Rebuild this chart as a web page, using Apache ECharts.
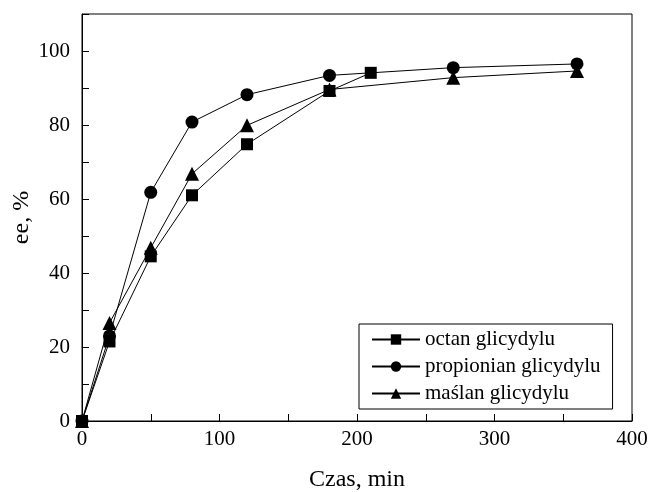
<!DOCTYPE html>
<html><head><meta charset="utf-8">
<script src="https://cdn.jsdelivr.net/npm/echarts@6/dist/echarts.min.js"></script>
<style>html,body{margin:0;padding:0;background:#fff}#c{width:651px;height:492px}</style>
</head><body><div id="c"></div>
<script>
var seriesNames = ['octan glicydylu', 'propionian glicydylu', 'maślan glicydylu'];
var octanX = [0, 20, 50, 80, 120, 180, 210];
var octanY = [0, 21.5, 44.5, 61, 74.8, 89.2, 94.1];
var propX = [0, 20, 50, 80, 120, 180, 270, 360];
var propY = [0, 23, 61.8, 80.8, 88.2, 93.4, 95.5, 96.5];
var maslX = [0, 20, 50, 80, 120, 180, 270, 360];
var maslY = [0, 26.5, 46.8, 66.8, 79.9, 89.6, 92.8, 94.6];
var symbols = ['rect', 'circle', 'triangle'];
var symbolSizes = [12, 13, 14];

function pairs(xs, ys){ return xs.map(function(x,i){ return [x, ys[i]]; }); }
var allData = [pairs(octanX, octanY), pairs(propX, propY), pairs(maslX, maslY)];

var font = 'Liberation Serif';
var chart = echarts.init(document.getElementById('c'), null, {renderer:'canvas'});
chart.setOption({
  animation: false,
  backgroundColor: '#fff',
  grid: {left: 82, right: 19, top: 14, bottom: 71, show: true, borderColor: '#000', borderWidth: 1,
         containLabel: false, outerBoundsMode: 'none'},
  xAxis: {
    type: 'value', min: 0, max: 400, interval: 50,
    name: 'Czas, min', nameLocation: 'middle', nameGap: 47,
    nameTextStyle: {fontFamily: font, fontSize: 24, color: '#000'},
    axisLine: {lineStyle: {color: '#000', width: 1}},
    axisTick: {inside: true, length: 7, lineStyle: {color: '#000'}},
    axisLabel: {fontFamily: font, fontSize: 21, color: '#000', margin: 8,
      formatter: function(v){ return v % 100 === 0 ? String(v) : ''; }},
    splitLine: {show: false}
  },
  yAxis: {
    type: 'value', min: 0, max: 110, interval: 10,
    name: 'ee, %', nameLocation: 'middle', nameGap: 48, nameRotate: 90,
    nameMoveOverlap: false,
    nameTextStyle: {fontFamily: font, fontSize: 24, color: '#000'},
    axisLine: {lineStyle: {color: '#000', width: 1}},
    axisTick: {inside: true, length: 7, lineStyle: {color: '#000'}},
    axisLabel: {fontFamily: font, fontSize: 21, color: '#000', margin: 12,
      formatter: function(v){ return (v % 20 === 0 && v <= 100) ? String(v) : ''; }},
    splitLine: {show: false}
  },
  legend: {
    orient: 'vertical', left: 359, top: 324,
    padding: [5, 12, 5, 12], itemGap: 6,
    itemWidth: 48, itemHeight: 13,
    borderColor: '#000', borderWidth: 1,
    textStyle: {fontFamily: font, fontSize: 21, color: '#000'},
    data: seriesNames
  },
  series: seriesNames.map(function(n, i){
    return {
      name: n, type: 'line', data: allData[i],
      symbol: symbols[i], symbolSize: symbolSizes[i],
      showAllSymbol: true,
      lineStyle: {color: '#000', width: 1},
      itemStyle: {color: '#000'},
      z: 3 - i
    };
  })
});
</script></body></html>
